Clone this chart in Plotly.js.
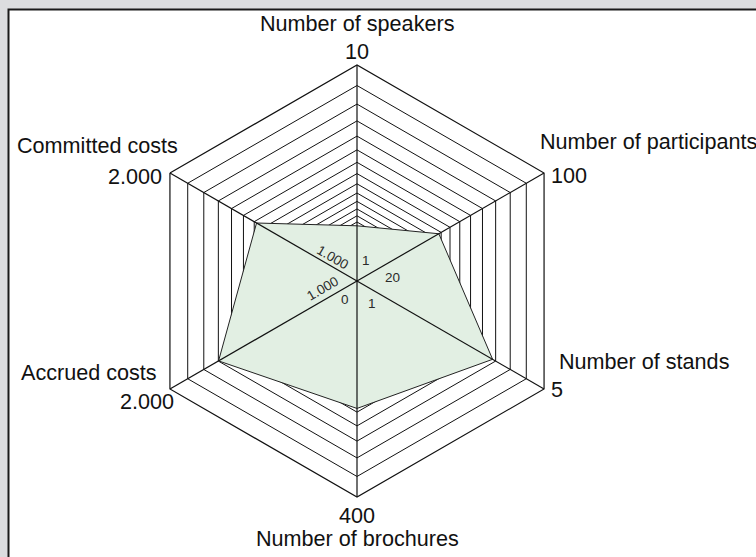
<!DOCTYPE html>
<html>
<head>
<meta charset="utf-8">
<script src="https://cdn.plot.ly/plotly-3.0.1.min.js"></script>
<style>html,body{margin:0;padding:0;background:#dcdddf;}#chart{width:756px;height:557px;}</style>
</head>
<body>
<div id="chart"></div>
<script>
// ---- data ----
const categories = ["Number of speakers", "Number of participants", "Number of stands",
                    "Number of brochures", "Accrued costs", "Committed costs"];
const axisMin   = [1, 20, 1, 0, 1000, 1000];
const axisMax   = [10, 100, 5, 400, 2000, 2000];
const values    = [3.3, 55, 3.9, 236, 1740, 1537];
const minLabels = ["1", "20", "1", "0", "1.000", "1.000"];
const maxLabels = ["10", "100", "5", "400", "2.000", "2.000"];
const ringRatio = 0.905;

// ---- derived ----
const W = 756, H = 557;
const cx = 357, cy = 281, R = 216;
const rNorm = values.map((v, i) => (v - axisMin[i]) / (axisMax[i] - axisMin[i]));
const rings = [];
for (let k = 0; k < 45; k++) rings.push(Math.pow(ringRatio, k));

const traces = [];
traces.push({
  type: 'scatterpolar',
  r: rNorm.concat([rNorm[0]]),
  theta: categories.concat([categories[0]]),
  mode: 'lines',
  fill: 'toself',
  fillcolor: '#e2efe3',
  line: {color: '#222', width: 1},
  hoverinfo: 'skip',
  showlegend: false
});
categories.forEach(c => {
  traces.push({
    type: 'scatterpolar', r: [0, 1], theta: [c, c], mode: 'lines',
    line: {color: '#111', width: 1.2}, hoverinfo: 'skip', showlegend: false
  });
});

function px(x) { return x / W; }
function py(y) { return 1 - y / H; }
const big = {family: 'Liberation Sans, Arial, sans-serif', size: 21.6, color: '#111'};
const small = {family: 'Liberation Sans, Arial, sans-serif', size: 13.5, color: '#2a2a2a'};

function ann(text, x, y, xa, font, angle) {
  return {text: text, x: px(x), y: py(y), xref: 'paper', yref: 'paper', xanchor: xa,
          yanchor: 'middle', showarrow: false, font: font, textangle: angle || 0};
}
const annotations = [
  ann(categories[0], 357, 23.5, 'center', big),
  ann(maxLabels[0], 357, 51.5, 'center', big),
  ann(categories[1], 538, 141.5, 'left', big),
  ann(maxLabels[1], 549, 175.5, 'left', big),
  ann(categories[2], 557, 361.5, 'left', big),
  ann(maxLabels[2], 549, 389.5, 'left', big),
  ann(maxLabels[3], 357, 515, 'center', big),
  ann(categories[3], 357, 538.5, 'center', big),
  ann(categories[4], 159, 372.5, 'right', big),
  ann(maxLabels[4], 176, 401.5, 'right', big),
  ann(categories[5], 180, 145.5, 'right', big),
  ann(maxLabels[5], 164, 176.5, 'right', big),
  ann(minLabels[0], 366, 261, 'center', small),
  ann(minLabels[1], 392, 277, 'center', small),
  ann(minLabels[2], 372, 303, 'center', small),
  ann(minLabels[3], 345, 299, 'center', small),
  ann(minLabels[4], 323, 289, 'center', small, -30),
  ann(minLabels[5], 333, 257, 'center', small, 30)
];

const layout = {
  width: W, height: H,
  margin: {l: 0, r: 0, t: 0, b: 0},
  paper_bgcolor: '#dcdddf',
  showlegend: false,
  shapes: [{type: 'rect', xref: 'paper', yref: 'paper', x0: px(8.5), x1: px(800), y0: py(600), y1: py(9.5),
            fillcolor: '#ffffff', line: {color: '#1a1a1a', width: 2}, layer: 'below'}],
  polar: {
    domain: {x: [px(cx - R), px(cx + R)], y: [py(cy + R), py(cy - R)]},
    bgcolor: 'rgba(0,0,0,0)',
    gridshape: 'linear',
    radialaxis: {range: [0, 1], tickvals: rings, showticklabels: false, ticks: '',
                 showline: false, gridcolor: '#111', gridwidth: 1},
    angularaxis: {type: 'category', categoryarray: categories, rotation: 90, direction: 'clockwise',
                  showticklabels: false, ticks: '', showgrid: false, showline: true,
                  linecolor: '#111', linewidth: 1.2}
  },
  annotations: annotations
};
Plotly.newPlot('chart', traces, layout, {staticPlot: true});
</script>
</body>
</html>
